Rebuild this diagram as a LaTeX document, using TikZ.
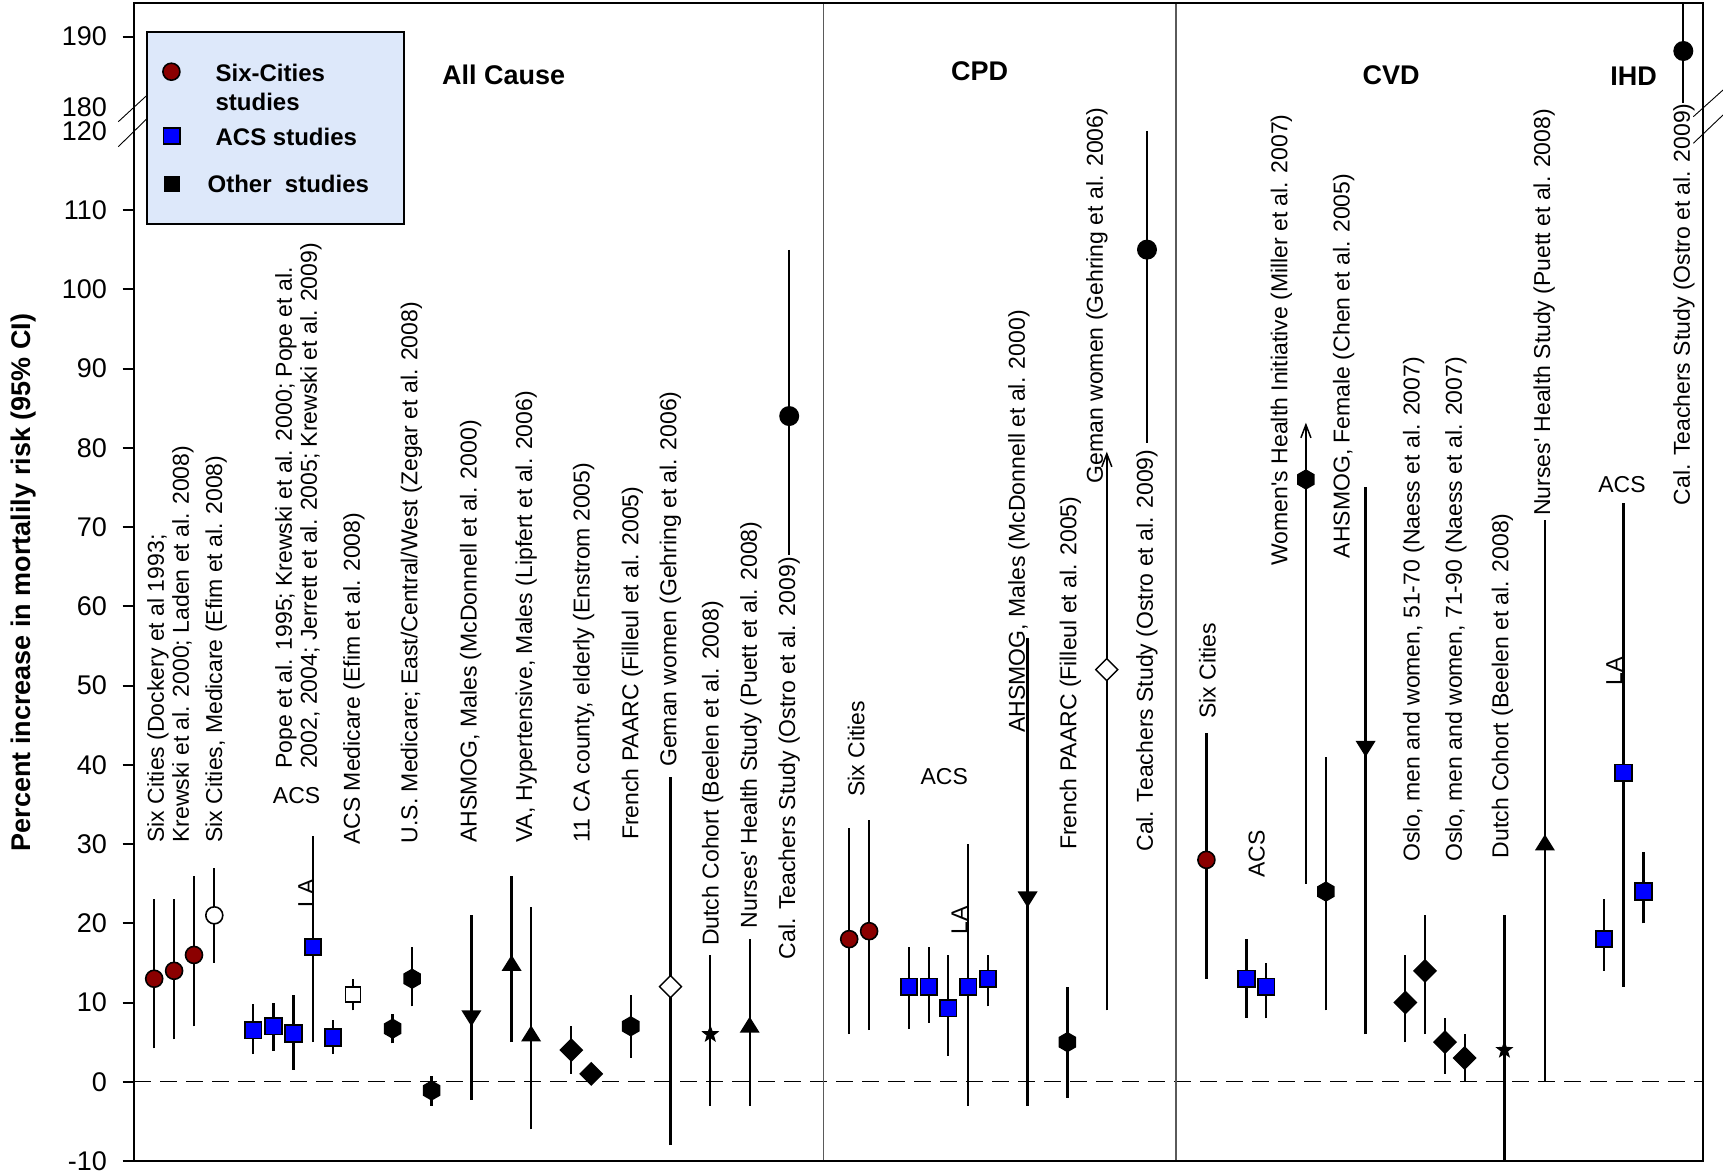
\documentclass[tikz,border=0pt]{standalone}
\usepackage{fontspec}
\setmainfont{Liberation Sans}
\usetikzlibrary{arrows.meta}
\definecolor{sixred}{RGB}{139,0,0}
\definecolor{acsblue}{RGB}{0,0,255}
\definecolor{legfill}{RGB}{221,232,250}
\definecolor{sepgray}{RGB}{90,90,90}
\newcommand\vy[1]{1081.75-7.925*(#1)}
\newcommand\mk[3]{\begin{scope}[shift={(#1,{\vy{#2}})}]#3\end{scope}}
\newcommand\datum[5]{\draw[errb] (#1,{\vy{#3}}) -- (#1,{\vy{#4}}); \mk{#1}{#2}{#5}}
\newcommand\shCirc[1]{\filldraw[fill=#1,draw=black,line width=1.6pt] (0,0) circle[radius=8.5pt];}
\newcommand\shSq[1]{\filldraw[fill=#1,draw=black,line width=1.8pt] (-8.25,-8.25) rectangle (8.25,8.25);}
\newcommand\shSqOpen{\filldraw[fill=white,draw=black,line width=1.6pt] (-7.5,-7.5) rectangle (7.5,7.5);}
\newcommand\shHex{\fill (0,-10.2) -- (8.83,-5.1) -- (8.83,5.1) -- (0,10.2) -- (-8.83,5.1) -- (-8.83,-5.1) -- cycle;}
\newcommand\shDia[1]{\filldraw[fill=#1,draw=black,line width=1.4pt] (0,-11) -- (11,0) -- (0,11) -- (-11,0) -- cycle;}
\newcommand\shUp{\fill (-10,8) -- (10,8) -- (0,-8) -- cycle;}
\newcommand\shDown{\fill (-10,-8) -- (10,-8) -- (0,8) -- cycle;}
\newcommand\shStar{\fill (-90:9.5) -- (-54:3.9) -- (-18:9.5) -- (18:3.9) -- (54:9.5) -- (90:3.9) -- (126:9.5) -- (162:3.9) -- (198:9.5) -- (234:3.9) -- cycle;}
\newcommand\shDot{\fill (0,0) circle[radius=10pt];}
\begin{document}
\begin{tikzpicture}[x=1pt,y=-1pt,
  errb/.style={line width=2.3pt},
  tipbarb/.style={-{Straight Barb[length=13pt,width=10pt,line width=1.5pt]}},
  lab/.style={rotate=90,anchor=west,inner sep=0pt,font=\fontsize{23}{25}\selectfont,align=left},
  hlab/.style={inner sep=0pt,font=\fontsize{23}{25}\selectfont},
  ttl/.style={inner sep=0pt,font=\fontsize{27}{30}\selectfont\bfseries},
  ytick/.style={line width=2pt},
  ticklab/.style={anchor=east,inner sep=0pt,font=\fontsize{27}{30}\selectfont},
  leg/.style={anchor=west,inner sep=0pt,font=\fontsize{24}{28}\selectfont\bfseries}]
\useasboundingbox (0,0) rectangle (1723,1174);
\fill[white] (0,0) rectangle (1723,1174);

% zero line and panel separators
\draw[line width=1.3pt,dash pattern=on 17pt off 9pt] (134,1081.75) -- (1703,1081.75);
\draw[sepgray,line width=1.3pt] (823.6,3) -- (823.6,1161);
\draw[sepgray,line width=1.3pt] (1176,3) -- (1176,1161);

% axis ticks and labels
\foreach \v in {-10,0,10,...,110} {
  \pgfmathsetmacro\yy{\vy{\v}}
  \draw[ytick] (122.5,\yy) -- (134,\yy);
  \node[ticklab] (t\v) at (107,\yy) {\v};
}
\draw[ytick] (122.5,36.7) -- (134,36.7);
\node[ticklab] (t190) at (107,36.7) {190};
\node[ticklab] (t180) at (107,107.3) {180};
\node[ticklab] (t120) at (107,131.7) {120};
\draw[line width=0.9pt] (118.3,121.7) -- (147.3,95);
\draw[line width=0.9pt] (118.3,146.7) -- (147.3,118.3);
\draw[line width=0.9pt] (1693.3,116.7) -- (1723,90);
\draw[line width=0.9pt] (1693.3,143.3) -- (1723,115);

\node[rotate=90,inner sep=0pt,font=\fontsize{27}{30}\selectfont\bfseries] (ytitle) at (24,582.5) {Percent increase in mortalily risk (95\% CI)};

% ---------- All Cause ----------
\datum{154.2}{13}{4.2}{23}{\shCirc{sixred}}
\datum{174.1}{14}{5.35}{23}{\shCirc{sixred}}
\datum{194.0}{16}{7}{26}{\shCirc{sixred}}
\datum{214.3}{21}{15}{27}{\shCirc{white}}
\datum{253.3}{6.5}{3.5}{9.8}{\shSq{acsblue}}
\datum{273.6}{7}{3.9}{10}{\shSq{acsblue}}
\datum{293.5}{6.1}{1.5}{11}{\shSq{acsblue}}
\datum{313.0}{17}{5}{31}{\shSq{acsblue}}
\datum{332.9}{5.6}{3.5}{7.8}{\shSq{acsblue}}
\datum{352.8}{11}{9}{13}{\shSqOpen}
\datum{392.6}{6.7}{4.85}{8.6}{\shHex}
\datum{412.1}{13}{9.5}{17}{\shHex}
\datum{431.6}{-1.1}{-3}{0.7}{\shHex}
\datum{471.4}{8}{-2.3}{21}{\shDown}
\datum{511.6}{15}{5}{26}{\shUp}
\datum{531.1}{6.1}{-6}{22}{\shUp}
\datum{571.3}{4}{1}{7}{\shDia{black}}
\mk{591.2}{1}{\shDia{black}}
\datum{630.7}{7}{3}{11}{\shHex}
\draw[errb] (670.5,{\vy{-8}}) -- (670.5,776.7);
\mk{670.5}{12}{\shDia{white}}
\datum{710.3}{6}{-3}{16}{\shStar}
\datum{749.7}{7.2}{-3}{18}{\shUp}
\draw[errb] (789.2,250) -- (789.2,555);
\mk{789.2}{84}{\shDot}

% ---------- CPD ----------
\datum{849.2}{18}{6}{32}{\shCirc{sixred}}
\datum{869.1}{19}{6.5}{33}{\shCirc{sixred}}
\datum{908.9}{12}{6.65}{17}{\shSq{acsblue}}
\datum{928.8}{12}{7.45}{17}{\shSq{acsblue}}
\datum{948.3}{9.27}{3.3}{16}{\shSq{acsblue}}
\datum{968.2}{12}{-3}{30}{\shSq{acsblue}}
\datum{988.1}{13}{9.5}{16}{\shSq{acsblue}}
\datum{1027.6}{23}{-3}{56}{\shDown}
\datum{1067.4}{5}{-2}{12}{\shHex}
\draw[errb,tipbarb] (1106.8,{\vy{9}}) -- (1106.8,451.7);
\mk{1106.8}{52}{\shDia{white}}
\draw[errb] (1147,131) -- (1147,443);
\mk{1147}{105}{\shDot}

% ---------- CVD ----------
\datum{1206.4}{28}{13}{44}{\shCirc{sixred}}
\datum{1246.5}{13}{8.1}{18}{\shSq{acsblue}}
\datum{1266.2}{12}{8}{15}{\shSq{acsblue}}
\draw[errb,tipbarb] (1305.9,{\vy{25}}) -- (1305.9,422.7);
\mk{1305.9}{76}{\shHex}
\datum{1325.9}{24}{9}{41}{\shHex}
\datum{1365.6}{42}{6}{75}{\shDown}
\datum{1405.3}{10}{5}{16}{\shDia{black}}
\datum{1425}{14}{6}{21}{\shDia{black}}
\datum{1445}{5}{1}{8}{\shDia{black}}
\datum{1464.7}{3}{0}{6}{\shDia{black}}
\datum{1504.4}{4}{-10}{21}{\shStar}
\draw[errb] (1544.9,{\vy{0}}) -- (1544.9,520);
\mk{1544.9}{30.2}{\shUp}

% ---------- IHD ----------
\datum{1603.9}{18}{14}{23}{\shSq{acsblue}}
\datum{1623.6}{39}{12}{73}{\shSq{acsblue}}
\datum{1643.6}{24}{20}{29}{\shSq{acsblue}}
\draw[errb] (1683.3,3) -- (1683.3,103.3);
\fill (1683.3,51) circle[radius=10pt];

% ---------- labels ----------
\node[lab] (l1) at (170.3,842.7) {Six Cities (Dockery et al 1993;\\Krewski et al. 2000; Laden et al. 2008)};
\node[lab] (l2) at (216.2,842.7) {Six Cities, Medicare (Efim et al. 2008)};
\node[lab] (l3) at (298.5,769) {Pope et al. 1995; Krewski et al. 2000; Pope et al.\\2002, 2004; Jerrett et al. 2005; Krewski et al. 2009)};
\node[hlab] (acs1) at (296.6,795.7) {ACS};
\node[lab,anchor=center] (la1) at (306.1,893) {LA};
\node[lab] (l4) at (354,845) {ACS Medicare (Efim et al. 2008)};
\node[lab] (l5) at (411.4,843.3) {U.S. Medicare; East/Central/West (Zegar et al. 2008)};
\node[lab] (l6) at (470.7,843) {AHSMOG, Males (McDonnell et al. 2000)};
\node[lab] (l7) at (526.2,843) {VA, Hypertensive, Males (Lipfert et al. 2006)};
\node[lab] (l8) at (583.6,843) {11 CA county, elderly (Enstrom 2005)};
\node[lab] (l9) at (632.3,840) {French PAARC (Filleul et al. 2005)};
\node[lab] (l10) at (670.5,767) {Geman women (Gehring et al. 2006)};
\node[lab] (l11) at (712.6,946) {Dutch Cohort (Beelen et al. 2008)};
\node[lab] (l12) at (750.9,928.5) {Nurses\textquotesingle\ Health Study (Puett et al. 2008)};
\node[lab] (l13) at (789.2,959.3) {Cal. Teachers Study (Ostro et al. 2009)};

\node[lab] (l14) at (856.1,797) {Six Cities};
\node[hlab] (acs2) at (944.2,776.7) {ACS};
\node[lab,anchor=center] (la2) at (959.5,920.7) {LA};
\node[lab] (l15) at (1018.8,733) {AHSMOG, Males (McDonnell et al. 2000)};
\node[lab] (l16) at (1070.4,850) {French PAARC (Filleul et al. 2005)};
\node[lab] (l17) at (1097,483.5) {Geman women (Gehring et al. 2006)};
\node[lab] (l18) at (1147,851.7) {Cal. Teachers Study (Ostro et al. 2009)};

\node[lab] (l19) at (1207.5,719) {Six Cities};
\node[lab,anchor=center] (acs3) at (1256.7,854) {ACS};
\node[lab] (l20) at (1281.3,565.5) {Women\textquotesingle s Health Initiative (Miller et al. 2007)};
\node[lab] (l21) at (1343.7,558.3) {AHSMOG, Female (Chen et al. 2005)};
\node[lab] (l22) at (1413.7,861.7) {Oslo, men and women, 51-70 (Naess et al. 2007)};
\node[lab] (l23) at (1456,861.7) {Oslo, men and women, 71-90 (Naess et al. 2007)};
\node[lab] (l24) at (1502.5,858.3) {Dutch Cohort (Beelen et al. 2008)};
\node[lab] (l25) at (1544.2,516) {Nurses\textquotesingle\ Health Study (Puett et al. 2008)};

\node[hlab] (acs4) at (1622,485) {ACS};
\node[lab,anchor=center] (la3) at (1614.1,671.7) {LA};
\node[lab] (l26) at (1684,505.5) {Cal. Teachers Study (Ostro et al. 2009)};

% panel titles
\node[ttl] (tAll) at (503.6,75) {All Cause};
\node[ttl] (tCPD) at (979.6,71.7) {CPD};
\node[ttl] (tCVD) at (1391,75) {CVD};
\node[ttl] (tIHD) at (1633.6,76.7) {IHD};

% frame
\draw[line width=2.2pt] (134,3) rectangle (1703,1161);

% legend
\filldraw[fill=legfill,draw=black,line width=2pt] (147.3,32) rectangle (404.1,224);
\filldraw[fill=sixred,draw=black,line width=1.6pt] (171.4,71.7) circle[radius=8.5pt];
\filldraw[fill=acsblue,draw=black,line width=1.8pt] (163.5,127.8) rectangle (180.0,144.3);
\fill (163.5,176) rectangle (180.0,192.5);
\node[leg] (g1) at (215.4,72.7) {Six-Cities};
\node[leg] (g2) at (215.4,101.7) {studies};
\node[leg] (g3) at (215.4,136.7) {ACS studies};
\node[leg] (g4) at (207.4,184.3) {Other~ studies};
\end{tikzpicture}
\end{document}
